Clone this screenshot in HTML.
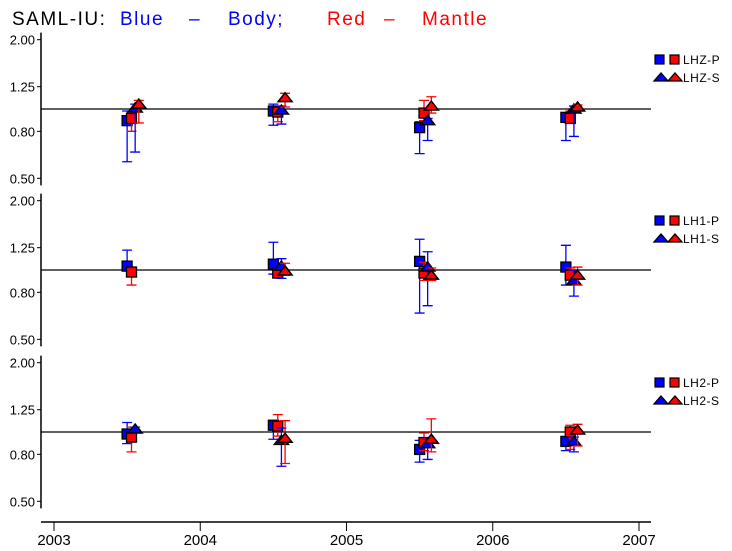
<!DOCTYPE html>
<html><head><meta charset="utf-8"><style>
html,body{margin:0;padding:0;background:#fff}
svg{display:block}
text{font-family:"Liberation Sans",sans-serif}
</style></head><body>
<svg id="chart" width="732" height="551" viewBox="0 0 732 551" xmlns="http://www.w3.org/2000/svg">
<text y="25" font-size="19" letter-spacing="1.5"><tspan x="12" fill="#000">SAML-IU:</tspan><tspan x="120" fill="#0000ff">Blue</tspan><tspan x="189" fill="#0000ff">–</tspan><tspan x="228" fill="#0000ff">Body;</tspan><tspan x="327" fill="#ff0000">Red</tspan><tspan x="384" fill="#ff0000">–</tspan><tspan x="422" fill="#ff0000">Mantle</tspan></text>
<g id="g"></g>
</svg>
<script>
const years=[2003.5,2004.5,2005.5,2006.5];
const yearTicks=[2003,2004,2005,2006,2007];
const yTicks=[2.00,1.25,0.80,0.50];
const panelNames=["LHZ","LH1","LH2"];
// panel 1 LHZ
const p1BsVal=[0.89,0.98,0.83,0.92], p1BsHi=[0.98,1.05,0.88,0.96], p1BsLo=[0.59,0.85,0.64,0.73];
const p1RsVal=[0.91,0.97,0.96,0.91], p1RsHi=[0.97,1.02,1.09,0.98], p1RsLo=[0.80,0.88,0.89,0.87];
const p1BtVal=[1.01,0.99,0.89,1.00], p1BtHi=[1.05,1.03,0.91,1.03], p1BtLo=[0.65,0.86,0.73,0.76];
const p1RtVal=[1.05,1.12,1.03,1.02], p1RtHi=[1.09,1.17,1.13,1.04], p1RtLo=[0.87,1.02,0.96,0.99];
// panel 2 LH1
const p2BsVal=[1.04,1.06,1.09,1.03], p2BsHi=[1.22,1.32,1.36,1.28], p2BsLo=[0.99,0.96,0.65,0.86];
const p2RsVal=[0.98,0.97,0.97,0.95], p2RsHi=[1.02,1.02,1.08,1.02], p2RsLo=[0.86,0.93,0.90,0.86];
const p2BtVal=[null,1.04,1.03,0.90], p2BtHi=[null,1.12,1.20,1.00], p2BtLo=[null,0.92,0.70,0.77];
const p2RtVal=[null,0.99,0.95,0.95], p2RtHi=[null,1.07,1.02,1.03], p2RtLo=[null,0.95,0.90,0.86];
// panel 3 LH2
const p3BsVal=[0.98,1.07,0.84,0.91], p3BsHi=[1.10,1.10,0.92,0.95], p3BsLo=[0.89,0.93,0.74,0.83];
const p3RsVal=[0.95,1.06,0.90,1.00], p3RsHi=[1.05,1.19,0.99,1.07], p3RsLo=[0.82,0.96,0.83,0.84];
const p3BtVal=[1.03,0.92,0.89,0.91], p3BtHi=[1.05,1.04,0.93,0.95], p3BtLo=[1.00,0.71,0.76,0.82];
const p3RtVal=[null,0.94,0.93,1.02], p3RtHi=[null,1.12,1.14,1.08], p3RtLo=[null,0.73,0.82,0.87];

const panels=[
 [[p1BsVal,p1BsHi,p1BsLo],[p1RsVal,p1RsHi,p1RsLo],[p1BtVal,p1BtHi,p1BtLo],[p1RtVal,p1RtHi,p1RtLo]],
 [[p2BsVal,p2BsHi,p2BsLo],[p2RsVal,p2RsHi,p2RsLo],[p2BtVal,p2BtHi,p2BtLo],[p2RtVal,p2RtHi,p2RtLo]],
 [[p3BsVal,p3BsHi,p3BsLo],[p3RsVal,p3RsHi,p3RsLo],[p3BtVal,p3BtHi,p3BtLo],[p3RtVal,p3RtHi,p3RtLo]]
];
const seriesStyle=[["#0000ff","sq",0],["#ff0000","sq",0.03],["#0000ff","tri",0.055],["#ff0000","tri",0.08]];
const seriesNames=["body-p","mantle-p","body-s","mantle-s"];
const centers=[109,270,432];
const X0=41,X1=651;
function xs(yr){return 54+146.25*(yr-2003);}
function ys(p,v){return centers[p]-100*Math.log(v);}
const NS="http://www.w3.org/2000/svg";
const g=document.getElementById('g');
function mk(tag,attrs,parent){const e=document.createElementNS(NS,tag);for(const k in attrs)e.setAttribute(k,attrs[k]);(parent||g).appendChild(e);return e;}

panels.forEach((ser,p)=>{
  const pg=mk('g',{});
  
  
  const top=ys(p,2.0)-7, bot=ys(p,0.5)+7;
  const ax=mk('line',{x1:X0,x2:X0,y1:top,y2:bot,stroke:'#000','stroke-width':1.5},pg);
  
  
  yTicks.forEach(t=>{
    const y=ys(p,t);
    mk('line',{x1:X0-4,x2:X0,y1:y,y2:y,stroke:'#000','stroke-width':1},pg);
    const tx=mk('text',{x:X0-6,y:y+5,'font-size':13,'text-anchor':'end',fill:'#000'},pg);
    tx.textContent=t.toFixed(2);
    
    
  });
  const ref=mk('line',{x1:X0,x2:X1,y1:ys(p,1),y2:ys(p,1),stroke:'#000','stroke-width':1.3},pg);
  
  
  ser.forEach((s,si)=>{
    const [col,shape,off]=seriesStyle[si];
    const sg=mk('g',{},pg);
    
    
    years.forEach((yr,i)=>{
      const v=s[0][i]; if(v==null) return;
      const x=xs(yr+off), y=ys(p,v), yh=ys(p,s[1][i]), yl=ys(p,s[2][i]);
      mk('path',{d:`M${x} ${yh}V${yl}M${x-5} ${yh}H${x+5}M${x-5} ${yl}H${x+5}`,stroke:col,'stroke-width':1.3,fill:'none'},sg);
      let m;
      if(shape==='sq') m=mk('rect',{x:x-5,y:y-5,width:10,height:10,fill:col,stroke:'#000','stroke-width':1.3},sg);
      else m=mk('polygon',{points:`${x-7},${y+4} ${x+7},${y+4} ${x},${y-5}`,fill:col,stroke:'#000','stroke-width':1.5},sg);
      
      
    });
  });
  const lg=mk('g',{},pg);
  
  
  const ly=centers[p]-50;
  mk('rect',{x:655,y:ly-4,width:9,height:9,fill:'#0000ff',stroke:'#000','stroke-width':1.2},lg);
  mk('rect',{x:670,y:ly-4,width:9,height:9,fill:'#ff0000',stroke:'#000','stroke-width':1.2},lg);
  const t1=mk('text',{x:683,y:ly+5,'font-size':12,'letter-spacing':0.5,fill:'#000'},lg);
  t1.textContent=panelNames[p]+'-P';
  
  
  const l2=ly+18;
  mk('polygon',{points:`654,${l2+4} 668,${l2+4} 661,${l2-4}`,fill:'#0000ff',stroke:'#000','stroke-width':1.3},lg);
  mk('polygon',{points:`668,${l2+4} 682,${l2+4} 675,${l2-4}`,fill:'#ff0000',stroke:'#000','stroke-width':1.3},lg);
  const t2=mk('text',{x:683,y:l2+5,'font-size':12,'letter-spacing':0.5,fill:'#000'},lg);
  t2.textContent=panelNames[p]+'-S';
  
  
});
const xa=mk('line',{x1:X0,x2:X1,y1:522,y2:522,stroke:'#000','stroke-width':1.5});


yearTicks.forEach(yr=>{
  const x=xs(yr);
  mk('line',{x1:x,x2:x,y1:522,y2:531,stroke:'#000','stroke-width':1});
  const t=mk('text',{x:x,y:545,'font-size':15,'text-anchor':'middle',fill:'#000'});
  t.textContent=yr;
  
  
});
</script>
</body></html>
